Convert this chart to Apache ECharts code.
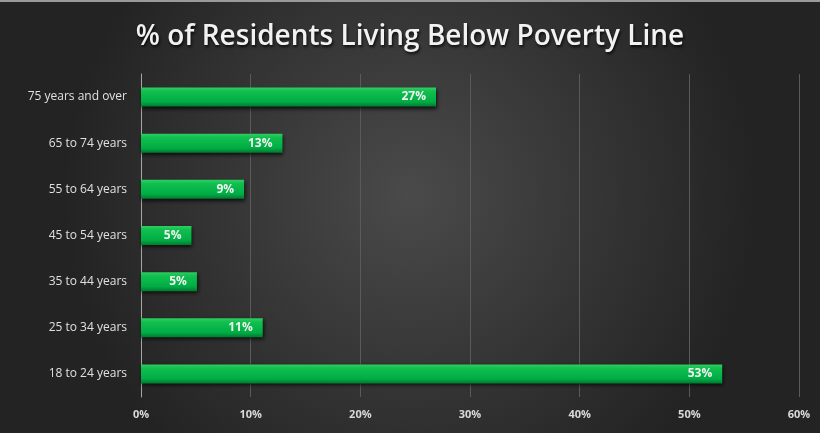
<!DOCTYPE html>
<html><head><meta charset="utf-8">
<script src="https://cdn.jsdelivr.net/npm/echarts@6/dist/echarts.min.js"></script>
<style>html,body{margin:0;padding:0;background:#2a2a2a}#c{width:820px;height:433px}</style>
</head><body><div id="c"></div>
<script>
const categories = ['18 to 24 years','25 to 34 years','35 to 44 years','45 to 54 years','55 to 64 years','65 to 74 years','75 years and over'];
const values = [53, 11.1, 5.1, 4.6, 9.4, 12.9, 26.9];
const xTicks = [0, 10, 20, 30, 40, 50, 60];

const chart = echarts.init(document.getElementById('c'));
chart.setOption({
  backgroundColor: {
    type: 'radial', x: 0.5, y: 0.45, r: 0.8,
    colorStops: [{offset: 0, color: '#4a4a4a'}, {offset: 1, color: '#232323'}]
  },
  graphic: [{type: 'rect', left: 0, top: 0, shape: {width: 820, height: 2}, style: {fill: '#9a9a9a'}}],
  title: {
    text: '% of Residents Living Below Poverty Line',
    left: 'center', top: 18,
    textStyle: {color: '#f2f2f2', fontSize: 28, fontWeight: 600, fontFamily: 'Open Sans',
      textShadowColor: 'rgba(0,0,0,0.8)', textShadowBlur: 3, textShadowOffsetX: 1, textShadowOffsetY: 2}
  },
  grid: {left: 141, right: 21, top: 74, bottom: 36, containLabel: false},
  xAxis: {
    type: 'value', min: 0, max: 60, interval: 10,
    axisLabel: {color: '#d9d9d9', fontSize: 11, fontWeight: 'bold', fontFamily: 'Open Sans', margin: 12,
      formatter: v => v + '%'},
    axisLine: {show: false}, axisTick: {show: false},
    splitLine: {show: true, lineStyle: {color: '#5a5a5a', width: 1}}
  },
  yAxis: {
    type: 'category', data: categories,
    axisLabel: {color: '#e0e0e0', fontSize: 12, fontFamily: 'Open Sans', margin: 14},
    axisLine: {show: true, lineStyle: {color: '#a6a6a6', width: 1}},
    axisTick: {show: false}
  },
  series: [{
    type: 'bar', data: values, barWidth: 19,
    itemStyle: {
      color: {type: 'linear', x: 0, y: 0, x2: 0, y2: 1, colorStops: [
        {offset: 0, color: '#2fcf63'}, {offset: 0.2, color: '#10bf4e'},
        {offset: 0.75, color: '#00ad45'}, {offset: 1, color: '#007a30'}]},
      shadowColor: 'rgba(0,0,0,0.75)', shadowBlur: 4, shadowOffsetX: 1, shadowOffsetY: 2
    },
    label: {show: true, position: 'insideRight', color: '#f2f2f2', fontSize: 12, fontWeight: 'bold',
      fontFamily: 'Open Sans', distance: 10, formatter: p => Math.round(p.value) + '%'}
  }]
});
</script></body></html>
